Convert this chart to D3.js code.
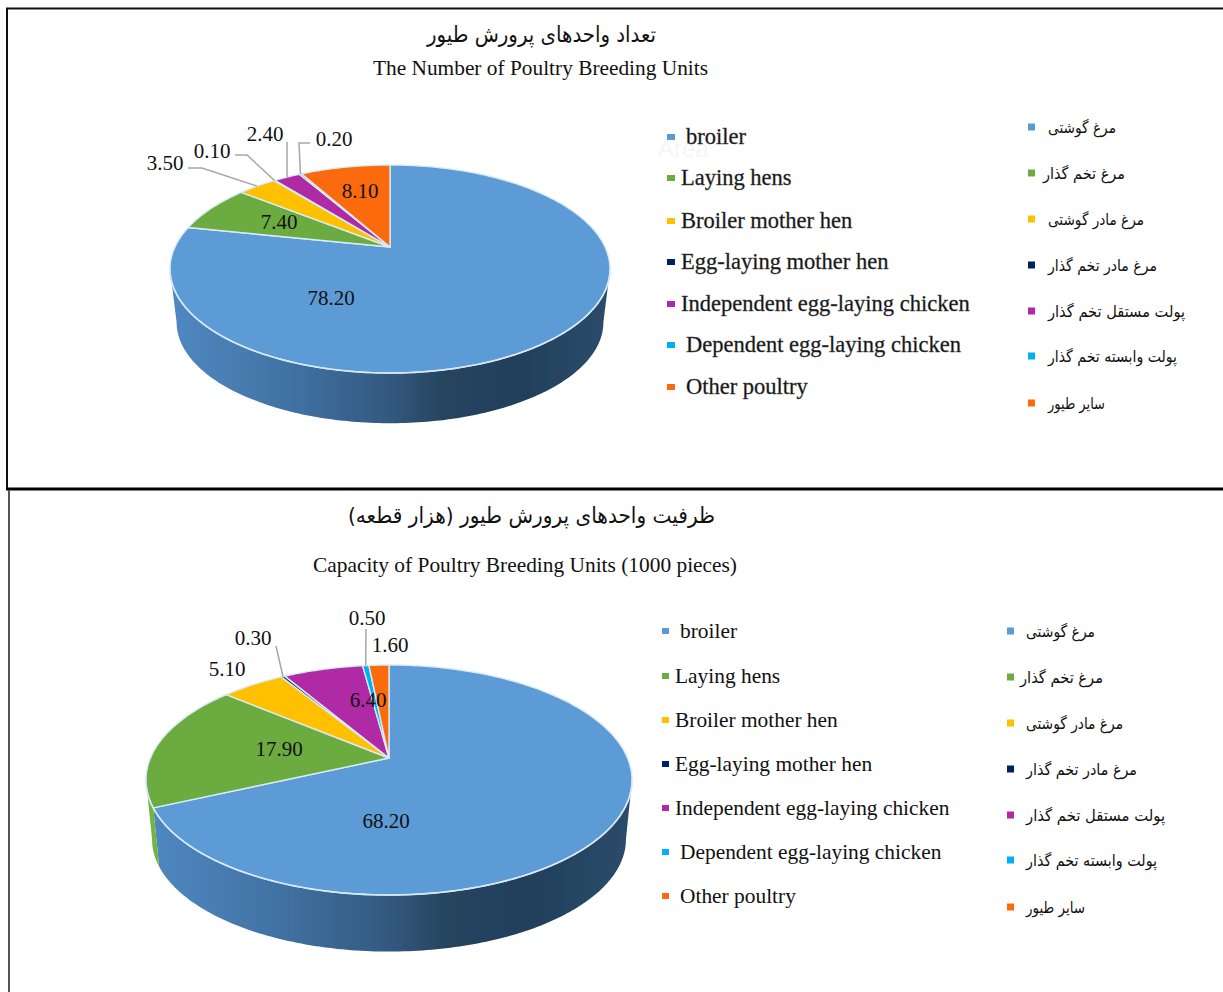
<!DOCTYPE html>
<html lang="en">
<head>
<meta charset="utf-8">
<script src="https://cdn.jsdelivr.net/npm/d3@7"></script>
<style>
html,body{margin:0;padding:0;background:#fff;}
svg{display:block;}
text{font-family:"Liberation Serif","Times New Roman",serif;fill:#111;}
.fa{font-family:"DejaVu Sans",sans-serif;direction:rtl;unicode-bidi:embed;}
</style>
</head>
<body>
<svg id="chart" width="1223" height="992"></svg>
<script>
// ---------- data ----------
const categoriesEn = ["broiler","Laying hens","Broiler mother hen","Egg-laying mother hen","Independent egg-laying chicken","Dependent egg-laying chicken","Other poultry"];
const categoriesFa = ["مرغ گوشتی","مرغ تخم گذار","مرغ مادر گوشتی","مرغ مادر تخم گذار","پولت  مستقل تخم گذار","پولت وابسته تخم گذار","سایر طیور"];
const unitValues = [78.2,7.4,3.5,0.1,2.4,0.2,8.1];
const capacityValues = [68.2,17.9,5.1,0.3,6.4,0.5,1.6];
const sliceColors = ["#5b9bd5","#6cab3f","#ffc000","#002060","#b02aa6","#00b0f0","#fb6a0c"];

// ---------- layout ----------
const panels = [
 {
  values: unitValues, id:"a",
  titleFa:"تعداد واحدهای پرورش طیور", titleFaBox:[427,656,34,22],
  titleEn:"The Number of Poultry Breeding Units", titleEnBox:[373,708,68,21],
  pie:{cx:390, apexY:247, back:82, front:126, rx:220, depth:54, shrink:.97},
  labels:[[331,298],[279,222],[165,163],[212,151],[265,134],[334,139],[360,191]],
  leaders:{2:[[188,168],[202,168]],3:[[235,155],[247,155]],4:[[287,142]],5:[[310,143],[299,143]]},
  leg:{sw:[667,8,6], rows:[137,178,221,262,304,345,387], tx:[686,681,681,681,681,686,686], size:22.5, blur:true,
       faSw:[1028,7,7], faRows:[127,173,219,265,311,356,403],
       faL:[1048,1043,1048,1048,1048,1048,1048], faR:[1116,1125,1144,1157,1185,1177,1105], faSize:16}
 },
 {
  values: capacityValues, id:"b",
  titleFa:"ظرفیت واحدهای پرورش طیور (هزار قطعه)", titleFaBox:[348,715,515,22],
  titleEn:"Capacity of Poultry Breeding Units (1000 pieces)", titleEnBox:[313,737,565,21],
  pie:{cx:389, apexY:758, back:93, front:137, rx:243, depth:60, shrink:.975},
  labels:[[386,821],[279,749],[227,669],[253,638],[368,700],[367,618],[390,645]],
  leaders:{3:[[276,646]],5:[[366,629]]},
  leg:{sw:[662,7,6], rows:[631,676,720,764,808,852,896], tx:[680,675,675,675,675,680,680], size:21.4,
       faSw:[1007,7,7], faRows:[631,677,723,769,815,860,907],
       faL:[1026,1020,1026,1026,1026,1026,1026], faR:[1095,1103,1123,1137,1165,1157,1085], faSize:16}
 }
];

const svg = d3.select("#chart");
const defs = svg.append("defs");
defs.append("filter").attr("id","soft").attr("x","-5%").attr("y","-5%").attr("width","110%").attr("height","110%")
  .append("feGaussianBlur").attr("stdDeviation",0.5);

// ---------- frames ----------
const frames = svg.append("g").attr("fill","none");
frames.append("path").attr("d","M7,488V8.5H1223").attr("stroke","#111").attr("stroke-width",2);
frames.append("line").attr("x1",6).attr("x2",1223).attr("y1",489).attr("y2",489).attr("stroke","#000").attr("stroke-width",3);
frames.append("line").attr("x1",9).attr("x2",9).attr("y1",490).attr("y2",992).attr("stroke","#555").attr("stroke-width",2);
svg.append("text").text("Area").attr("x",658).attr("y",157).attr("font-size",24).style("fill","#f6f6f6").style("font-family","Liberation Sans");

panels.forEach(p => {
  const P = p.pie, g = svg.append("g"), soft = g.append("g").attr("filter","url(#soft)");
  // perspective of a tilted disc: far edge p.back above the apex, near edge p.front below it
  const k = (P.back - P.front) / (P.back + P.front);
  const A = P.back * (1 - k);
  const R = P.rx * Math.sqrt(1 - k * k);
  const project = (a, s = 1, dy = 0) => {
    const u = Math.sin(a), v = Math.cos(a), d = 1 - k * v;
    return [P.cx + s * R * u / d, P.apexY + dy - s * A * v / d];
  };
  const sample = (a0, a1) => d3.range(0, 1.0001, 1 / Math.max(2, Math.ceil((a1 - a0) * 60))).map(t => a0 + (a1 - a0) * t);
  const line = d3.line();
  const arcs = d3.pie().sort(null).startAngle(0).endAngle(2 * Math.PI)(p.values);
  const color = d3.scaleOrdinal().domain(d3.range(categoriesEn.length)).range(sliceColors);

  // wall gradient
  const gr = defs.append("linearGradient").attr("id","wall" + p.id)
    .attr("gradientUnits","userSpaceOnUse")
    .attr("x1",P.cx - P.rx).attr("x2",P.cx + P.rx).attr("y1",0).attr("y2",0);
  [[0,"#5088c2"],[.12,"#4a7fb5"],[.3,"#3f6f9f"],[.5,"#33597f"],[.62,"#26445f"],[.8,"#21405c"],[1,"#2c4c6b"]]
    .forEach(([o,c]) => gr.append("stop").attr("offset",o).attr("stop-color",c));

  // outer wall, only the part of the rim facing the viewer
  const w0 = Math.acos(k), w1 = 2 * Math.PI - w0;
  soft.append("g").selectAll("path").data(arcs.filter(d => d.endAngle > w0 && d.startAngle < w1)).join("path")
    .attr("d", d => {
      const s = sample(Math.max(d.startAngle, w0), Math.min(d.endAngle, w1));
      const pts = s.map(a => project(a)).concat(s.slice().reverse().map(a => project(a, P.shrink, P.depth)));
      return line(pts) + "Z";
    })
    .attr("fill", d => d.index === 0 ? `url(#wall${p.id})` : d3.color(color(d.index)).brighter(.15));

  // top face
  soft.append("g").selectAll("path").data(arcs).join("path")
    .attr("d", d => line([[P.cx, P.apexY]].concat(sample(d.startAngle, d.endAngle).map(a => project(a)))) + "Z")
    .attr("fill", d => color(d.index))
    .attr("stroke", "#d8ebf6").attr("stroke-width", 1.4).attr("stroke-linejoin","round");
  soft.append("path").attr("fill","none").attr("stroke","#d5e8f6").attr("stroke-width",1.6)
    .attr("d", line(sample(w0, w1).map(a => project(a))));

  // leaders
  Object.entries(p.leaders).forEach(([i, pts]) => {
    const d = arcs[+i];
    g.append("path").attr("fill","none").attr("stroke","#a6a6a6").attr("stroke-width",1.5)
      .attr("d", line(pts.concat([project((d.startAngle + d.endAngle) / 2)])));
  });

  // value labels
  g.append("g").selectAll("text").data(arcs).join("text")
    .attr("x", d => p.labels[d.index][0]).attr("y", d => p.labels[d.index][1])
    .attr("dy",".35em").attr("text-anchor","middle").attr("font-size",21)
    .text(d => d3.format(".2f")(d.value));

  // titles
  const title = (txt, box, cls) => svg.append("text").attr("class",cls)
    .attr("x",(box[0]+box[1])/2).attr("y",box[2]).attr("dy",".35em").attr("text-anchor","middle")
    .attr("font-size",box[3]).attr("textLength",box[1]-box[0]).attr("lengthAdjust","spacingAndGlyphs").text(txt);
  title(p.titleFa, p.titleFaBox, "fa");
  title(p.titleEn, p.titleEnBox, "");

  // legends
  const L = p.leg, lg = svg.append("g");
  lg.selectAll("rect.en").data(categoriesEn).join("rect").attr("class","en")
    .attr("x",L.sw[0]).attr("y",(d,i)=>L.rows[i]-L.sw[2]/2).attr("width",L.sw[1]).attr("height",L.sw[2])
    .attr("fill",(d,i)=>color(i));
  lg.selectAll("text.en").data(categoriesEn).join("text").attr("class","en")
    .attr("x",(d,i)=>L.tx[i]).attr("y",(d,i)=>L.rows[i]).attr("dy",".32em")
    .attr("font-size",L.size).text(d=>d)
    .attr("stroke",L.blur?"#444":"none").attr("stroke-width",L.blur?.35:0);
  lg.selectAll("rect.fa").data(categoriesFa).join("rect").attr("class","fa")
    .attr("x",L.faSw[0]).attr("y",(d,i)=>L.faRows[i]-L.faSw[2]/2).attr("width",L.faSw[1]).attr("height",L.faSw[2])
    .attr("fill",(d,i)=>color(i));
  lg.selectAll("text.fa").data(categoriesFa).join("text").attr("class","fa")
    .attr("x",(d,i)=>(L.faL[i]+L.faR[i])/2).attr("y",(d,i)=>L.faRows[i]).attr("dy",".35em")
    .attr("text-anchor","middle").attr("font-size",L.faSize)
    .attr("textLength",(d,i)=>L.faR[i]-L.faL[i]).attr("lengthAdjust","spacingAndGlyphs").text(d=>d);
});
</script>
</body>
</html>
